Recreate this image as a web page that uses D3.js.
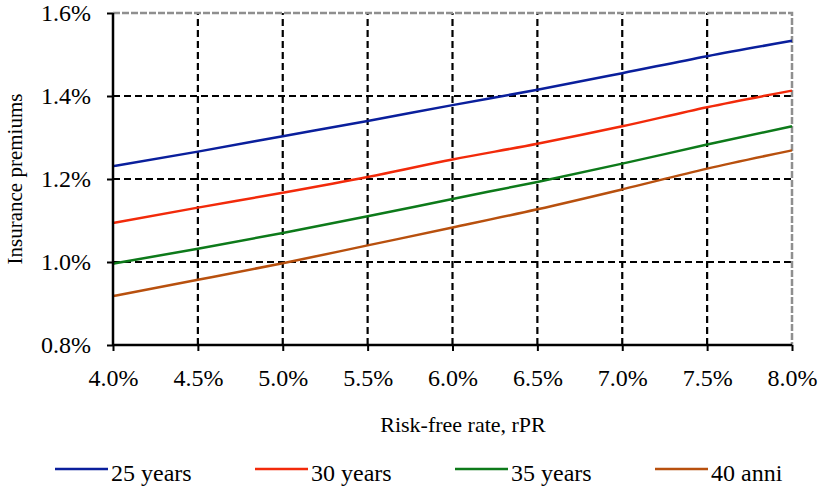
<!DOCTYPE html>
<html lang="en">
<head>
  <meta charset="UTF-8">
  <title>Insurance premiums vs risk-free rate</title>
  <script src="https://d3js.org/d3.v7.min.js"></script>
  <style>
    body { margin: 0; background: #fff; }
    text { font-family: "Liberation Serif", "Times New Roman", serif; fill: #000; }
  </style>
</head>
<body>
  <div id="chart"></div>
  <script>
  var rates = [4.0, 4.5, 5.0, 5.5, 6.0, 6.5, 7.0, 7.5, 8.0];
  var years25 = [1.231, 1.266, 1.303, 1.340, 1.378, 1.415, 1.455, 1.496, 1.533];
  var years30 = [1.094, 1.131, 1.167, 1.205, 1.247, 1.285, 1.327, 1.373, 1.413];
  var years35 = [0.996, 1.032, 1.070, 1.110, 1.152, 1.193, 1.237, 1.283, 1.327];
  var anni40  = [0.918, 0.957, 0.997, 1.040, 1.083, 1.127, 1.175, 1.225, 1.269];
  var seriesNames = ["25 years", "30 years", "35 years", "40 anni"];
  var seriesColors = ["#0a1f9c", "#f22a0a", "#0d7a1a", "#b8500e"];
  var yTicks = [0.8, 1.0, 1.2, 1.4, 1.6];

  var allSeries = [years25, years30, years35, anni40];

  var w = 821, h = 489;
  var margin = {top: 13, right: 29, bottom: 144, left: 113};

  var svg = d3.select("#chart").append("svg")
    .attr("width", w)
    .attr("height", h);

  var x = d3.scaleLinear().domain([4.0, 8.0]).range([margin.left, w - margin.right]);
  var y = d3.scaleLinear().domain([0.8, 1.6]).range([h - margin.bottom, margin.top]);

  // grid
  svg.append("g").selectAll("line")
    .data(rates.slice(1, -1))
    .join("line")
    .attr("x1", d => x(d)).attr("x2", d => x(d))
    .attr("y1", y(0.8)).attr("y2", y(1.6))
    .attr("stroke", "#000").attr("stroke-width", 2.2)
    .attr("stroke-dasharray", "7,4");

  svg.append("g").selectAll("line")
    .data(yTicks.slice(1, -1))
    .join("line")
    .attr("x1", x(4.0)).attr("x2", x(8.0))
    .attr("y1", d => y(d)).attr("y2", d => y(d))
    .attr("stroke", "#000").attr("stroke-width", 2.2)
    .attr("stroke-dasharray", "7,4");

  // top and right border (grey)
  svg.append("path")
    .attr("d", "M" + x(4.0) + "," + y(1.6) + "H" + x(8.0) + "V" + y(0.8))
    .attr("fill", "none")
    .attr("stroke", "#8f8f8f").attr("stroke-width", 2.5)
    .attr("stroke-dasharray", "7,2");

  // series
  var line = d3.line()
    .x((d, i) => x(rates[i]))
    .y(d => y(d))
    .curve(d3.curveMonotoneX);

  svg.append("g").selectAll("path")
    .data(allSeries)
    .join("path")
    .attr("d", line)
    .attr("fill", "none")
    .attr("stroke", (d, i) => seriesColors[i])
    .attr("stroke-width", 2.5);

  // axes
  var xAxis = d3.axisBottom(x)
    .tickValues(rates)
    .tickFormat(d => d.toFixed(1) + "%")
    .tickSize(6)
    .tickPadding(18);

  var yAxis = d3.axisLeft(y)
    .tickValues(yTicks)
    .tickFormat(d => d.toFixed(1) + "%")
    .tickSize(6)
    .tickPadding(16);

  var gx = svg.append("g")
    .attr("transform", "translate(0," + y(0.8) + ")")
    .call(xAxis);
  var gy = svg.append("g")
    .attr("transform", "translate(" + x(4.0) + ",0)")
    .call(yAxis);

  [gx, gy].forEach(function(g) {
    g.select(".domain").attr("stroke", "#000").attr("stroke-width", 2.5);
    g.selectAll(".tick line").attr("stroke", "#000").attr("stroke-width", 2);
    g.selectAll(".tick text")
      .style("font-family", "'Liberation Serif', serif")
      .style("font-size", "24px")
      .attr("fill", "#000");
  });
  gx.select(".domain").attr("d", "M" + x(4.0) + ",0H" + x(8.0));
  gy.select(".domain").attr("d", "M0," + y(0.8) + "V" + y(1.6));

  // axis titles
  svg.append("text")
    .attr("x", 463).attr("y", 432)
    .attr("text-anchor", "middle")
    .style("font-size", "22px")
    .text("Risk-free rate, rPR");

  svg.append("text")
    .attr("transform", "translate(22," + ((y(0.8) + y(1.6)) / 2) + ") rotate(-90)")
    .attr("text-anchor", "middle")
    .style("font-size", "21px")
    .text("Insurance premiums");

  // legend
  var legend = svg.append("g").selectAll("g")
    .data(seriesNames)
    .join("g")
    .attr("transform", (d, i) => "translate(" + (55 + i * 200) + ",469)");

  legend.append("line")
    .attr("x1", 0).attr("x2", 53)
    .attr("y1", 0).attr("y2", 0)
    .attr("stroke", (d, i) => seriesColors[i])
    .attr("stroke-width", 2.5);

  legend.append("text")
    .attr("x", 56).attr("y", 12)
    .style("font-size", "24px")
    .text(d => d);
  </script>
</body>
</html>
